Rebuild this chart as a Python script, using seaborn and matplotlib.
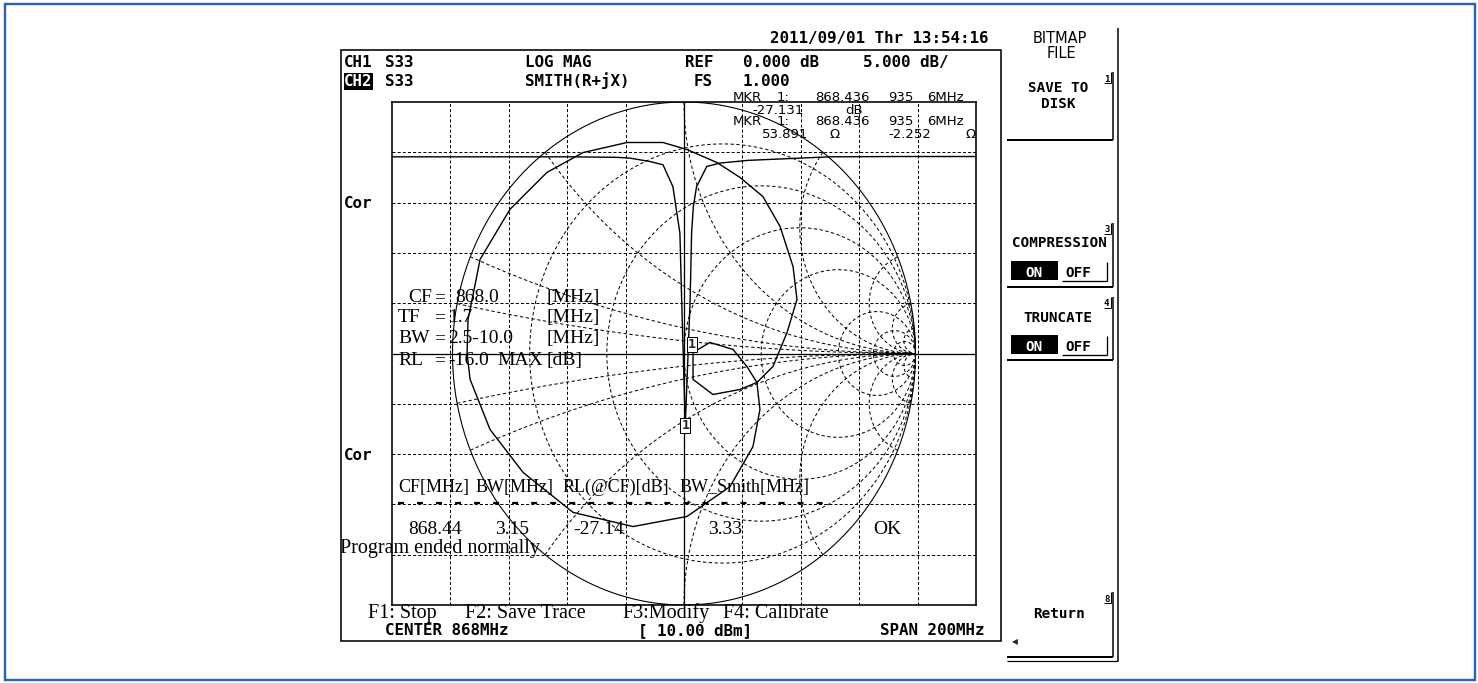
import numpy as np
import matplotlib
matplotlib.use("Agg")
import matplotlib.pyplot as plt
from matplotlib.patches import Rectangle
import seaborn as sns

# ---------------- measurement data ----------------
center_mhz = 868.0
span_mhz = 200.0
ref_db = 0.0            # reference level sits one division below the top line
db_per_div = 5.0
z0_ohm = 50.0

# CH1  S33  LOG MAG
lm_freq_mhz = [768.0, 800.0, 830.0, 845.0, 849.5, 856.4, 860.8, 864.2, 866.6, 867.2,
               868.437, 870.1, 870.6, 871.2, 872.3, 875.8, 880.3, 890.0, 918.0, 940.0, 968.0]
lm_db = [-0.45, -0.45, -0.45, -0.5, -0.58, -0.92, -1.24, -3.42, -8.05, -14.7,
         -27.131, -14.7, -8.05, -5.4, -3.42, -1.41, -1.07, -0.8, -0.45, -0.42, -0.42]

# CH2  S33  SMITH(R+jX): reflection coefficient, real and imaginary parts
sm_gamma_re = [0.315, 0.384, 0.445, 0.488, 0.471, 0.415, 0.341, 0.242, 0.143, 0.013,
               -0.091, -0.246, -0.436, -0.592, -0.752, -0.881, -0.898, -0.933, -0.937,
               -0.924, -0.838, -0.695, -0.479, -0.220, 0.013, 0.199, 0.298, 0.328, 0.315,
               0.242, 0.125, 0.039, 0.039, 0.112, 0.212, 0.272, 0.315]
sm_gamma_im = [-0.115, -0.052, 0.083, 0.215, 0.346, 0.505, 0.624, 0.700, 0.759, 0.811,
               0.839, 0.839, 0.799, 0.720, 0.573, 0.374, 0.294, 0.135, 0.000,
               -0.103, -0.302, -0.473, -0.632, -0.688, -0.648, -0.529, -0.370, -0.223, -0.115,
               -0.143, -0.163, -0.103, 0.004, 0.044, 0.016, -0.052, -0.115]

# marker 1
mkr_freq_mhz = 868.4369356
mkr_db = -27.131
mkr_r_ohm = 53.891
mkr_x_ohm = -2.252

# Smith graticule
smith_r_values = [0.2, 0.5, 1.0, 2.0, 5.0, 10.0, 20.0]
smith_x_values = [0.1, 0.2, 0.5, 1.0, 2.0, 5.0, 10.0, 20.0]

# measurement program overlay
setup_names = ["CF", "TF", "BW", "RL"]
setup_values = ["868.0", "1.7", "2.5-10.0", "-16.0"]
setup_qualifiers = ["", "", "", "MAX"]
setup_units = ["[MHz]", "[MHz]", "[MHz]", "[dB]"]
result_headers = ["CF[MHz]", "BW[MHz]", "RL(@CF)[dB]", "BW_Smith[MHz]"]
result_values = ["868.44", "3.15", "-27.14", "3.33"]
result_verdict = "OK"
function_keys = ["F1: Stop", "F2: Save Trace", "F3:Modify", "F4: Calibrate"]

# ---------------- figure ----------------
W, H, DPI = 1478, 683, 100
PT = 72.0 / DPI                      # points per pixel
sns.set_theme(style="white")
plt.rcParams.update({"font.family": ["DejaVu Sans"], "lines.scale_dashes": False})

MONO = "DejaVu Sans Mono"
SANS = "DejaVu Sans"
SERIF = "Liberation Serif"
DOT = (0, (2.2, 1.5))
SMITH_DOT = (0, (2.4, 1.8))

fig = plt.figure(figsize=(W / DPI, H / DPI), dpi=DPI, facecolor="white")


def px_rect(x0, y0, x1, y1):
    return [x0 / W, 1 - y1 / H, (x1 - x0) / W, (y1 - y0) / H]


GX0, GY0, GX1, GY1 = 392, 102, 976, 605
SMITH_RX_PX, SMITH_RY_PX = 231.5, 251.5

# ---- rectangular graticule + log-mag trace ----
ax_lm = fig.add_axes(px_rect(GX0, GY0, GX1, GY1))
ax_lm.set_facecolor("white")
f_lo, f_hi = center_mhz - span_mhz / 2, center_mhz + span_mhz / 2
db_top, db_bot = ref_db + db_per_div, ref_db - 9 * db_per_div
for k, f in enumerate(np.linspace(f_lo, f_hi, 11)[1:-1], start=1):
    ax_lm.axvline(f, color="black", lw=1.3 * PT if k == 5 else 1.0 * PT,
                  ls="-" if k == 5 else DOT, zorder=1)
for k, d in enumerate(np.linspace(db_top, db_bot, 11)[1:-1], start=1):
    ax_lm.axhline(d, color="black", lw=1.3 * PT if k == 5 else 1.0 * PT,
                  ls="-" if k == 5 else DOT, zorder=1)
sns.lineplot(x=lm_freq_mhz, y=lm_db, ax=ax_lm, color="black", lw=1.4 * PT,
             estimator=None, sort=False, zorder=3)
ax_lm.set_xlim(f_lo, f_hi)
ax_lm.set_ylim(db_bot, db_top)
ax_lm.set_xticks([])
ax_lm.set_yticks([])
ax_lm.set_xlabel("")
ax_lm.set_ylabel("")
for sp in ax_lm.spines.values():
    sp.set_color("black")
    sp.set_linewidth(1.6 * PT)
    sp.set_visible(True)

# ---- Smith chart ----
ax_sm = fig.add_axes(px_rect(GX0, GY0, GX1, GY1))
ax_sm.patch.set_alpha(0)
ax_sm.axis("off")
gx = (GX1 - GX0) / 2 / SMITH_RX_PX
gy = (GY1 - GY0) / 2 / SMITH_RY_PX


def gamma(z):
    return (z - 1) / (z + 1)


t = np.concatenate([[0.0], np.logspace(-3, 4, 900)])
for r in smith_r_values:
    g = gamma(r + 1j * np.concatenate([-t[::-1], t]))
    ax_sm.plot(g.real, g.imag, color="black", lw=1.0 * PT, ls=SMITH_DOT)
for xv in smith_x_values:
    for s in (1, -1):
        g = gamma(t + 1j * s * xv)
        ax_sm.plot(g.real, g.imag, color="black", lw=1.0 * PT, ls=SMITH_DOT)
th = np.linspace(0, 2 * np.pi, 400)
ax_sm.plot(np.cos(th), np.sin(th), color="black", lw=1.1 * PT)
sns.lineplot(x=sm_gamma_re, y=sm_gamma_im, ax=ax_sm, color="black", lw=1.4 * PT,
             estimator=None, sort=False)
ax_sm.set_xlim(-gx, gx)
ax_sm.set_ylim(-gy, gy)

# markers
box = dict(boxstyle="square,pad=0.08", fc="white", ec="black", lw=1.0 * PT)
ax_sm.text(mkr_freq_mhz, mkr_db, "1", transform=ax_lm.transData, ha="center",
           va="center", fontfamily=MONO, fontweight="bold", fontsize=9.5, bbox=box, zorder=6)
g_mk = gamma(complex(mkr_r_ohm, mkr_x_ohm) / z0_ohm)
ax_sm.annotate("1", xy=(g_mk.real, g_mk.imag), xytext=(-1, 14), textcoords="offset pixels",
               ha="center", va="center", fontfamily=MONO, fontweight="bold", fontsize=9.5,
               bbox=box, zorder=6)

# ---- pixel-space overlay: screen frame, annotations, soft keys ----
ax_px = fig.add_axes([0, 0, 1, 1])
ax_px.set_xlim(0, W)
ax_px.set_ylim(H, 0)
ax_px.axis("off")


def label(x, y, s, family, size, weight="normal", ha="left", color="black"):
    ax_px.text(x, y, s, fontfamily=family, fontsize=size, fontweight=weight,
               ha=ha, va="baseline", color=color)


def seg(xs, ys, lw=1.0, color="black", **kw):
    ax_px.plot(xs, ys, color=color, lw=lw * PT, solid_capstyle="butt", **kw)


# outer frame and screen frame
ax_px.add_patch(Rectangle((5, 3.5), 1470, 676.5, fill=False, ec="#2a64b0", lw=2.4 * PT))
ax_px.add_patch(Rectangle((341, 50), 660, 591, fill=False, ec="black", lw=1.6 * PT))

# header
HB = 11.4
label(770, 42.5, "2011/09/01 Thr 13:54:16", MONO, HB, "bold")
label(344, 67, "CH1", MONO, HB, "bold")
label(385, 67, "S33", MONO, HB, "bold")
label(525, 67, "LOG MAG", MONO, HB, "bold")
label(685, 67, "REF", MONO, HB, "bold")
label(743, 67, f"{ref_db:.3f} dB", MONO, HB, "bold")
label(863, 67, f"{db_per_div:.3f} dB/", MONO, HB, "bold")
ax_px.add_patch(Rectangle((343.5, 73), 29, 17, fc="black", ec="none"))
label(344, 86, "CH2", MONO, HB, "bold", color="white")
label(385, 86, "S33", MONO, HB, "bold")
label(525, 86, "SMITH(R+jX)", MONO, HB, "bold")
label(694, 86, "FS", MONO, HB, "bold")
label(743, 86, "1.000", MONO, HB, "bold")
label(344, 208, "Cor", MONO, HB, "bold")
label(344, 460, "Cor", MONO, HB, "bold")
label(385, 635, f"CENTER {center_mhz:.0f}MHz", MONO, HB, "bold")
label(638, 635, "[ 10.00 dBm]", MONO, HB, "bold")
label(880, 635, f"SPAN {span_mhz:.0f}MHz", MONO, HB, "bold")

# marker readout
MK = 9.5
f_str = f"{mkr_freq_mhz:.7f}"
f_parts = [f_str[:7], f_str[7:10], f_str[10:] + "MHz"]
for yb in (101, 125):
    label(733, yb, "MKR", SANS, MK)
    label(777, yb, "1:", SANS, MK)
    for xx, part in zip((815, 888, 927), f_parts):
        label(xx, yb, part, SANS, MK)
label(752, 114, f"{mkr_db:.3f}", SANS, MK)
label(845, 114, "dB", SANS, MK)
label(762, 138, f"{mkr_r_ohm:.3f}", SANS, MK)
label(830, 138, "\u03a9", SANS, MK)
label(888, 138, f"{mkr_x_ohm:.3f}", SANS, MK)
label(966, 138, "\u03a9", SANS, MK)

# measurement program text
SF = 14.0
name_x = [408, 398, 398, 398]
value_x = [455, 448, 448, 448]
base_y = [302, 322, 343, 365]
for nm, val, q, un, nx, vx, yb in zip(setup_names, setup_values, setup_qualifiers,
                                      setup_units, name_x, value_x, base_y):
    label(nx, yb, nm, SERIF, SF)
    label(434, yb, "=", SERIF, SF)
    label(vx, yb, val, SERIF, SF)
    if q:
        label(497, yb, q, SERIF, SF)
    label(547, yb, un, SERIF, SF)

for hx, hd in zip((398, 476, 563, 680), result_headers):
    label(hx, 492, hd, SERIF, 13.0)
seg([398, 833], [503, 503], lw=2.2, ls=(0, (4.3, 9.4)))
for vx, vv in zip((408, 495, 573, 708), result_values):
    label(vx, 534, vv, SERIF, SF)
label(873, 534, result_verdict, SERIF, SF)
label(340, 553, "Program ended normally", SERIF, 14.5)
for fx, fk in zip((368, 465, 622, 723), function_keys):
    label(fx, 618, fk, SERIF, 14.5)

# soft key panel
SK = 10.3
label(1060, 43, "BITMAP", SANS, 10.5, ha="center")
label(1061, 58, "FILE", SANS, 10.5, ha="center")
label(1058, 92, "SAVE TO", MONO, SK, "bold", ha="center")
label(1058, 108, "DISK", MONO, SK, "bold", ha="center")
label(1059, 247, "COMPRESSION", MONO, SK, "bold", ha="center")
label(1058, 322, "TRUNCATE", MONO, SK, "bold", ha="center")
label(1059, 618, "Return", MONO, SK, "bold", ha="center")

for top, bot in ((261, 280), (335, 354)):
    ax_px.add_patch(Rectangle((1011, top), 47, bot - top, fc="black", ec="none"))
    label(1034.5, bot - 3, "ON", MONO, SK, "bold", ha="center", color="white")
    label(1078, bot - 3, "OFF", MONO, SK, "bold", ha="center")
    seg([1062, 1107], [bot + 1, bot + 1], lw=1.3)
    seg([1107, 1107], [top + 1, bot + 1], lw=1.3)

for num, top, bot in (("1", 72, 140), ("3", 223, 287), ("4", 297, 360), ("8", 592, 657)):
    label(1104, top + 9.5, num, MONO, 6.5, "bold")
    seg([1103.5, 1110.5], [top + 11, top + 11], lw=1.0)
    seg([1110.5, 1110.5], [top, top + 11], lw=1.0)
    seg([1113, 1113], [top, bot], lw=1.5)
    seg([1007, 1113], [bot, bot], lw=2.0)
seg([1117.5, 1117.5], [28, 661], lw=1.5)
seg([1007, 1118], [661, 661], lw=1.2)
ax_px.text(1015, 642, "\u25c0", fontfamily=SANS, fontsize=5.5, ha="center", va="center")

fig.savefig("out.png", dpi=DPI, facecolor="white")
